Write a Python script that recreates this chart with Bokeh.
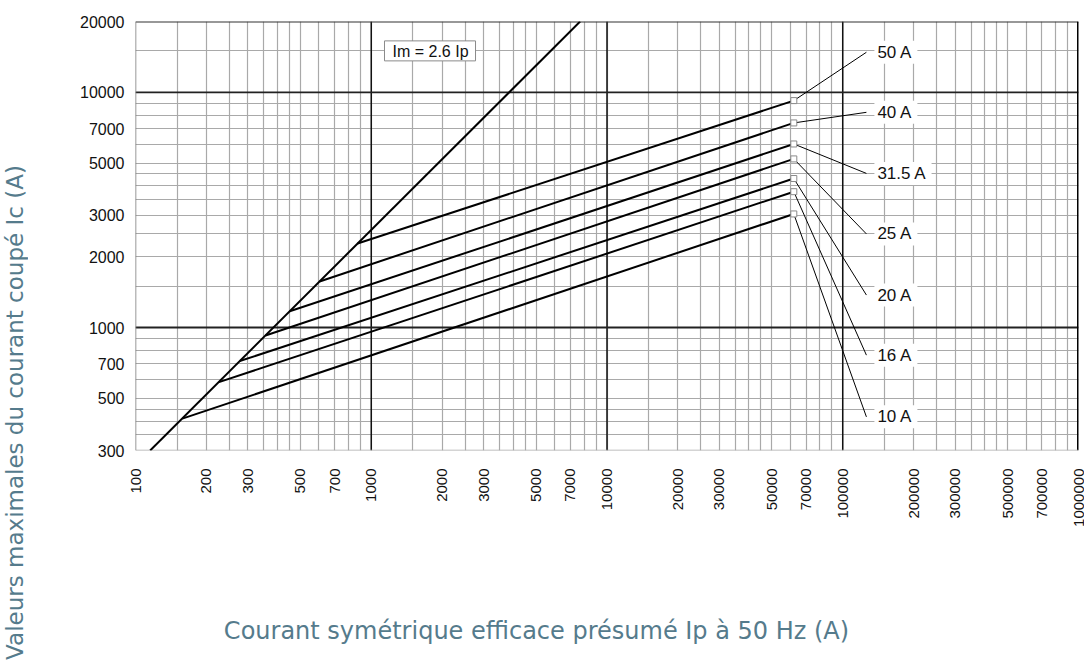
import math
from bokeh.plotting import figure
from bokeh.layouts import row, column
from bokeh.models import FixedTicker, NumeralTickFormatter, Span, Label
from bokeh.embed import file_html
from bokeh.resources import INLINE

# ---------------- data ----------------
x_tick_values = [100, 200, 300, 500, 700, 1000, 2000, 3000, 5000, 7000,
                 10000, 20000, 30000, 50000, 70000, 100000, 200000, 300000,
                 500000, 700000, 1000000]
y_tick_values = [300, 500, 700, 1000, 2000, 3000, 5000, 7000, 10000, 20000]

# limit line Im = 2.6 Ip
limit_ip = [115.4, 7692]
limit_im = [300, 20000]

ratings = ["10 A", "16 A", "20 A", "25 A", "31.5 A", "40 A", "50 A"]
start_ip = [158, 226, 277, 356, 451, 604, 875]
start_ic = [410, 586, 720, 925, 1172, 1570, 2275]
end_ip = [62000, 62000, 62000, 62000, 62000, 62000, 62000]
end_ic = [3040, 3780, 4300, 5210, 6030, 7410, 9220]

# callout (label) anchor points
callout_ip = [126000, 126000, 126000, 126000, 126000, 126000, 126000]
callout_ic = [417, 763, 1374, 2500, 4520, 8220, 14800]

limit_label = "Im = 2.6 Ip"
x_title = "Courant symétrique efficace présumé Ip à 50 Hz (A)"
y_title = "Valeurs maximales du courant coupé Ic (A)"

TITLE_COLOR = "#557b8c"
GRID = "#a9a9a9"

# ---------------- main chart ----------------
main = figure(width=1056, height=560, x_axis_type="log", y_axis_type="log",
              x_range=(100, 1000000), y_range=(300, 20000),
              output_backend="svg", toolbar_location=None,
              min_border_left=107, min_border_right=6,
              min_border_top=21, min_border_bottom=110)
main.outline_line_color = None
main.background_fill_color = "white"

mults = [1, 1.5, 2, 2.5, 3, 3.5, 4, 4.5, 5, 6, 7, 8, 9]
grid_x = [m * d for d in (100, 1000, 10000, 100000) for m in mults] + [1000000]
grid_y = [m * d for d in (100, 1000, 10000) for m in mults if 300 <= m * d <= 20000]

main.xgrid.ticker = FixedTicker(ticks=grid_x)
main.ygrid.ticker = FixedTicker(ticks=grid_y)
for g in (main.xgrid, main.ygrid):
    g.grid_line_color = GRID
    g.grid_line_width = 1.2
    g.grid_line_alpha = 1.0

for ax, ticks in ((main.xaxis, x_tick_values), (main.yaxis, y_tick_values)):
    ax.ticker = FixedTicker(ticks=ticks)
    ax.formatter = NumeralTickFormatter(format="0")
    ax.axis_line_color = None
    ax.major_tick_line_color = None
    ax.minor_tick_line_color = None
    ax.major_label_text_font = "Liberation Sans"
    ax.major_label_text_color = "#111111"
main.xaxis.major_label_text_font_size = "15px"
main.yaxis.major_label_text_font_size = "16px"
main.xaxis.major_label_orientation = math.pi / 2
main.xaxis.major_label_standoff = 12
main.yaxis.major_label_standoff = 5

# heavy reference lines
for v in (1000, 10000, 100000):
    main.add_layout(Span(location=v, dimension="height", line_color="#111111",
                         line_width=1.5, level="underlay"))
for v in (1000, 10000):
    main.add_layout(Span(location=v, dimension="width", line_color="#222222",
                         line_width=1.8, level="underlay"))
main.add_layout(Span(location=20000, dimension="width", line_color="#333333",
                     line_width=2, level="underlay"))
main.add_layout(Span(location=1000000, dimension="height", line_color="#000000",
                     line_width=3, level="underlay"))
main.add_layout(Span(location=100, dimension="height", line_color="#777777",
                     line_width=1.5, level="underlay"))
main.add_layout(Span(location=300, dimension="width", line_color=GRID,
                     line_width=1.5, level="underlay"))

# limit line
main.line(limit_ip, limit_im, line_color="black", line_width=2)

# fuse curves
main.segment(x0=start_ip, y0=start_ic, x1=end_ip, y1=end_ic,
             line_color="black", line_width=2)

# leader lines
main.segment(x0=end_ip, y0=end_ic, x1=callout_ip, y1=callout_ic,
             line_color="black", line_width=1)

# end markers
main.scatter(end_ip, end_ic, marker="square", size=6, fill_color="white",
             line_color="#8a8a8a", line_width=1)

# callout labels
for name, lx, ly in zip(ratings, callout_ip, callout_ic):
    main.add_layout(Label(x=lx, y=ly, text=name, x_offset=8,
                          text_align="left", text_baseline="middle",
                          text_font="Liberation Sans", text_font_size="17px",
                          text_color="#111111",
                          background_fill_color="white",
                          padding=dict(left=3, right=5, top=2, bottom=2)))

main.add_layout(Label(x=1138, y=15000, text=limit_label,
                      text_align="left", text_baseline="middle",
                      text_font="Liberation Sans", text_font_size="16px",
                      text_color="#111111",
                      background_fill_color="white", border_line_color="#8a8a8a",
                      border_line_width=1,
                      padding=dict(left=8, right=7, top=2, bottom=1)))

# ---------------- axis titles ----------------
ytitle_fig = figure(width=28, height=670, x_range=(0, 1), y_range=(0, 1),
                    output_backend="svg", toolbar_location=None,
                    x_axis_location=None, y_axis_location=None, min_border=0)
ytitle_fig.outline_line_color = None
ytitle_fig.grid.visible = False
ytitle_fig.add_layout(Label(x=14, y=258, x_units="screen", y_units="screen",
                            text=y_title, angle=math.pi / 2,
                            text_align="center", text_baseline="middle",
                            text_font="DejaVu Sans", text_font_size="23px",
                            text_color=TITLE_COLOR))

# this figure's frame is aligned with the main frame (left edge at page x 135)
xtitle_fig = figure(width=1056, height=110, x_range=(0, 1), y_range=(0, 1),
                    output_backend="svg", toolbar_location=None,
                    x_axis_location=None, y_axis_location=None, min_border=0)
xtitle_fig.outline_line_color = None
xtitle_fig.grid.visible = False
xtitle_fig.add_layout(Label(x=401, y=40, x_units="screen", y_units="screen",
                            text=x_title,
                            text_align="center", text_baseline="middle",
                            text_font="DejaVu Sans", text_font_size="24px",
                            text_color=TITLE_COLOR))

p = row(ytitle_fig, column(main, xtitle_fig))

open("out.html", "w").write(file_html(p, INLINE))
